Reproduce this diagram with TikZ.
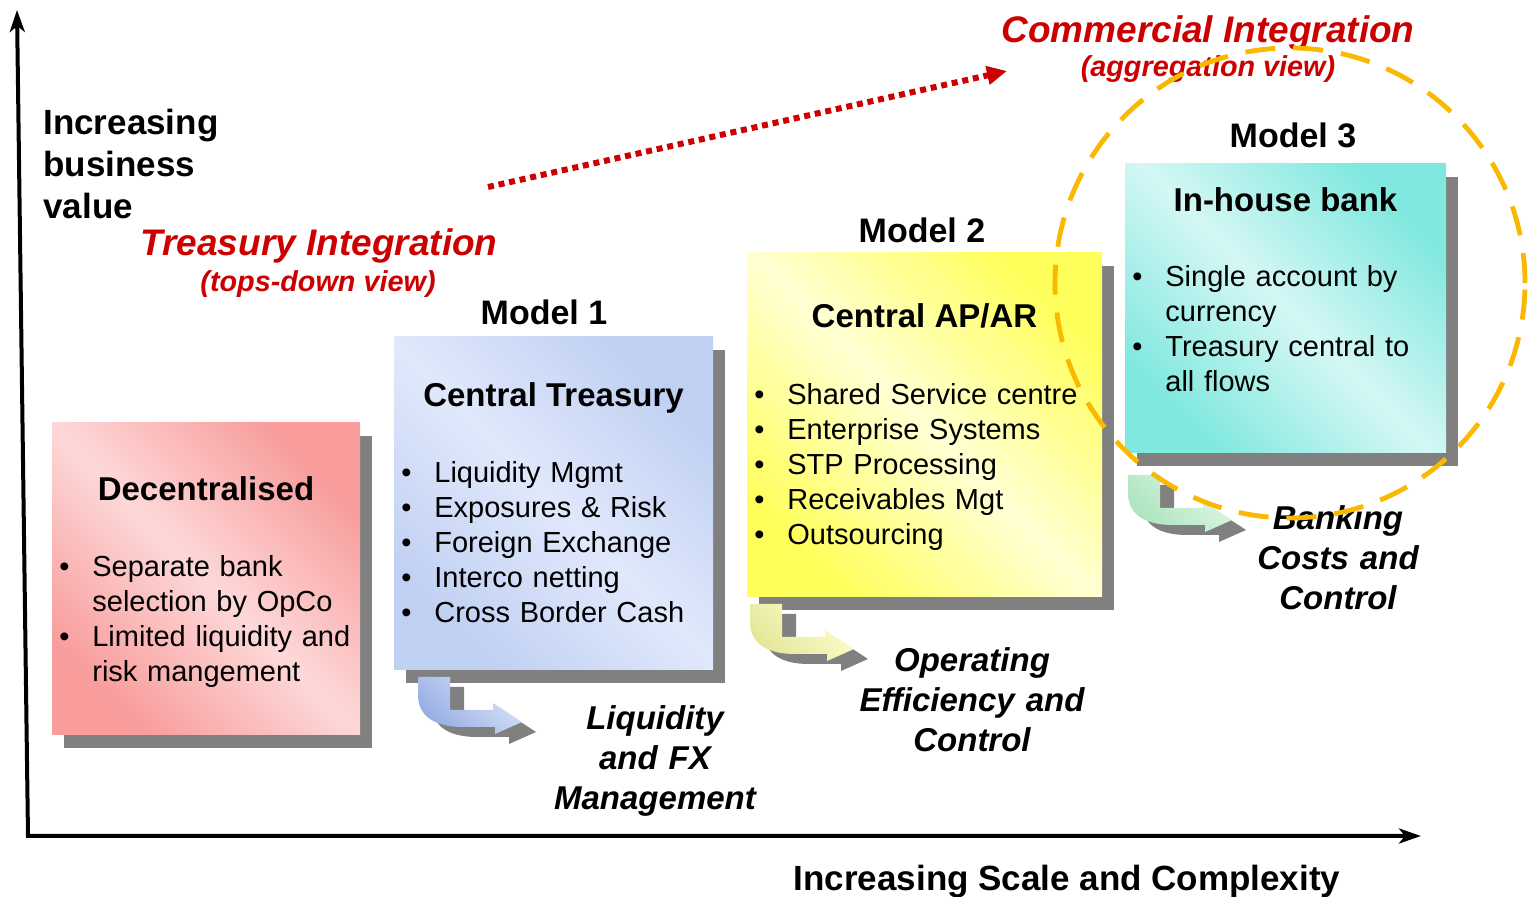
\documentclass[tikz,border=0pt]{standalone}
\usepackage{fontspec}
\setmainfont{Liberation Sans}
\usepackage{tikz}
\usetikzlibrary{arrows.meta,positioning,shadows}
\definecolor{shadowgray}{RGB}{128,128,128}
\definecolor{pinkedge}{RGB}{248,156,156}
\definecolor{pinkmid}{RGB}{253,216,216}
\definecolor{blueedge}{RGB}{192,208,243}
\definecolor{bluemid}{RGB}{224,232,251}
\definecolor{yellowedge}{RGB}{255,255,92}
\definecolor{yellowmid}{RGB}{255,255,212}
\definecolor{cyanedge}{RGB}{128,232,222}
\definecolor{cyanmid}{RGB}{212,247,245}
\definecolor{integred}{RGB}{204,0,0}
\definecolor{ringorange}{RGB}{250,184,0}
\definecolor{arrowblue}{RGB}{150,172,225}
\definecolor{arrowbluelight}{RGB}{218,228,250}
\definecolor{arrowyellow}{RGB}{226,230,150}
\definecolor{arrowyellowlight}{RGB}{255,255,208}
\definecolor{arrowgreen}{RGB}{172,228,190}
\definecolor{arrowgreenlight}{RGB}{222,248,228}
\tikzstyle{panel} = [rectangle, anchor=north west, inner sep=0pt, outer sep=0pt,
    general shadow={fill=shadowgray, shadow xshift=6pt, shadow yshift=-6.5pt}]
\tikzstyle{paneltitle} = [anchor=base, inner sep=0pt, font=\fontsize{16.5}{20}\selectfont\bfseries]
\tikzstyle{bullets} = [anchor=base west, inner sep=0pt, text width=175pt, align=left,
    font=\fontsize{14.5}{17.5}\selectfont]
\tikzstyle{modellabel} = [anchor=base, inner sep=0pt, font=\fontsize{17}{20}\selectfont\bfseries]
\tikzstyle{outcome} = [anchor=base, inner sep=0pt, text width=130pt, align=center,
    font=\fontsize{16.5}{20}\selectfont\bfseries\itshape]
\tikzstyle{axislabel} = [inner sep=0pt, font=\fontsize{17.5}{21}\selectfont\bfseries]
\tikzstyle{redhead} = [anchor=base, inner sep=0pt, text=integred, font=\fontsize{18.5}{22}\selectfont\bfseries\itshape]
\tikzstyle{redsub} = [anchor=base, inner sep=0pt, text=integred, font=\fontsize{14.4}{17}\selectfont\bfseries\itshape]
\tikzstyle{axis} = [{Stealth[length=11pt, width=7.5pt, inset=3pt]}-{Stealth[length=11pt, width=7.5pt, inset=3pt]}, line width=2pt]
\tikzstyle{dotarrow} = [-{Triangle[length=10pt, width=9pt]}, integred, line width=3pt, dash pattern=on 3pt off 2.4pt]
\tikzstyle{ring} = [ringorange, line width=2.4pt, dash pattern=on 15pt off 9pt]

% bullet line with hanging indent (use \newline inside)
\newcommand{\bitem}[1]{\hangindent=16.5pt\hangafter=1\noindent\makebox[16.5pt][l]{\textbullet}#1\par}

% bent arrow under a panel: origin, dark colour, light colour
\newcommand{\turnarrow}[3]{%
  \begin{scope}[shift={#1}]
    \begin{scope}[shift={(14,10)}]
      \fill[shadowgray] (0,0) -- (32,0) -- (32,33) -- (75,33) -- (75,26) -- (104,45) -- (77,57) -- (77,50)
        -- (45,50) .. controls (15,50) and (0,38) .. (0,18) -- cycle;
    \end{scope}
    \shade[top color=#3, bottom color=#2, shading angle=-45] (0,0) -- (32,0) -- (32,33) -- (75,33) -- (75,26)
      -- (104,45) -- (77,57) -- (77,50) -- (45,50) .. controls (15,50) and (0,38) .. (0,18) -- cycle;
  \end{scope}}

\begin{document}
\begin{tikzpicture}[x=0.5pt, y=-0.5pt]
\useasboundingbox (0,0) rectangle (1528,897);

% panels
\node[panel, minimum width=154pt, minimum height=156pt, top color=pinkedge, bottom color=pinkedge,
    middle color=pinkmid, shading angle=-45] (dec) at (52,423) {};
\node[panel, minimum width=159.5pt, minimum height=166.5pt, top color=blueedge, bottom color=blueedge,
    middle color=bluemid, shading angle=-45] (ctreasury) at (394,337) {};
\node[panel, minimum width=177.5pt, minimum height=172pt, top color=yellowedge, bottom color=yellowedge,
    middle color=yellowmid, shading angle=-45] (capar) at (747,253) {};
\node[panel, minimum width=160.5pt, minimum height=144.5pt, top color=cyanedge, bottom color=cyanedge,
    middle color=cyanmid, shading angle=-45] (ihbank) at (1125,164) {};

% bent arrows
\turnarrow{(418,677)}{arrowblue}{arrowbluelight}
\turnarrow{(750,604)}{arrowyellow}{arrowyellowlight}
\turnarrow{(1128,475)}{arrowgreen}{arrowgreenlight}

% panel texts
\node[paneltitle] (dectitle) at ([yshift=-39pt]dec.north) {Decentralised};
\node[bullets] (decitems) at ([xshift=3.5pt, yshift=-77pt]dec.north west)
  {\bitem{Separate bank\newline selection by OpCo}\bitem{Limited liquidity and\newline risk mangement}};

\node[paneltitle] (cttitle) at ([yshift=-35pt]ctreasury.north) {Central Treasury};
\node[bullets] (ctitems) at ([xshift=3.5pt, yshift=-73pt]ctreasury.north west)
  {\bitem{Liquidity Mgmt}\bitem{Exposures \& Risk}\bitem{Foreign Exchange}\bitem{Interco netting}\bitem{Cross Border Cash}};

\node[paneltitle] (captitle) at ([yshift=-37.5pt]capar.north) {Central AP/AR};
\node[bullets] (capitems) at ([xshift=3.5pt, yshift=-76pt]capar.north west)
  {\bitem{Shared Service centre}\bitem{Enterprise Systems}\bitem{STP Processing}\bitem{Receivables Mgt}\bitem{Outsourcing}};

\node[paneltitle] (ihtitle) at ([yshift=-24pt]ihbank.north) {In-house bank};
\node[bullets] (ihitems) at ([xshift=3.5pt, yshift=-61.5pt]ihbank.north west)
  {\bitem{Single account by\newline currency}\bitem{Treasury central to\newline all flows}};

\node[modellabel] (m1) at (544,325) {Model 1};
\node[modellabel] (m2) at (922,243) {Model 2};
\node[modellabel] (m3) at (1293,148) {Model 3};

% outcomes
\node[outcome] (lfx) at (655,730) {Liquidity\\and FX\\Management};
\node[outcome] (oec) at (972,672) {Operating\\Efficiency and\\Control};
\node[outcome] (bcc) at (1338,530) {Banking\\Costs and\\Control};

% axes
\coordinate (ytop) at (17,10);
\coordinate (origin) at (28,836);
\coordinate (xend) at (1421,836);
\draw[axis] (ytop) -- (origin) -- (xend);
\node[axislabel, anchor=base west, text width=120pt, align=left] (yaxis) at (43,135) {Increasing\\business\\value};
\node[axislabel, anchor=base] (xaxis) at (1067,891) {Increasing Scale and Complexity};

% integration views
\node[redhead] (ti) at (319,256) {Treasury Integration};
\node[redsub] (tiview) at (318,292) {(tops-down view)};
\node[redhead] (ci) at (1208,43) {Commercial Integration};
\node[redsub] (ciview) at (1208,77) {(aggregation view)};
\coordinate (tistart) at (488,187);
\coordinate (ciend) at (1007,71);
\draw[dotarrow] (tistart) -- (ciend);

% model 3 scope ring
\draw[ring] (1290,283) circle[radius=117.5pt];
\end{tikzpicture}
\end{document}
